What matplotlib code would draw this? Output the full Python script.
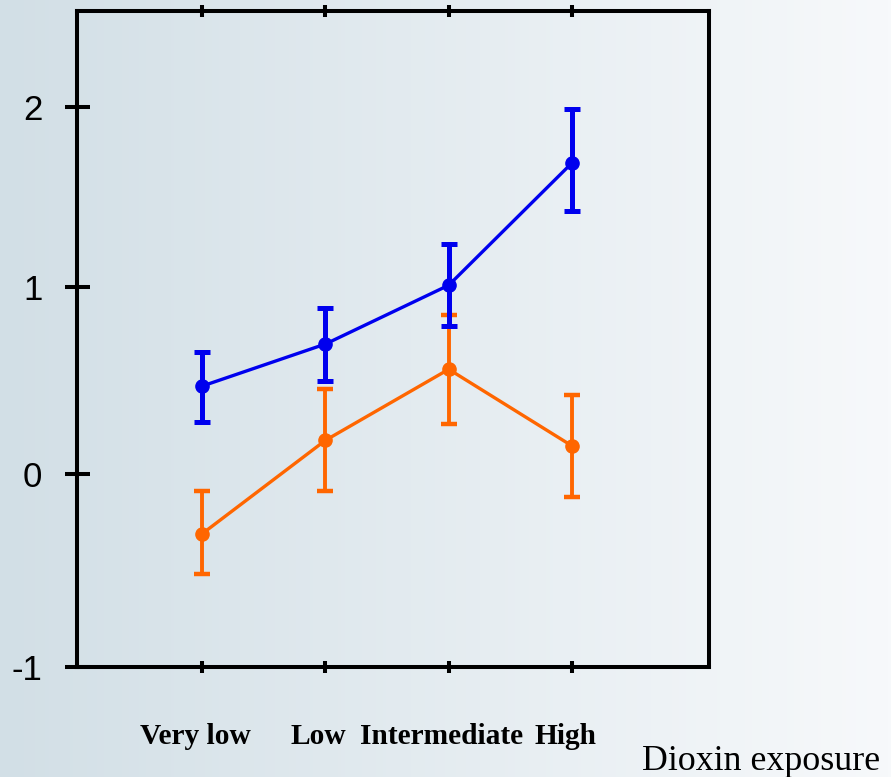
import numpy as np
import matplotlib
matplotlib.use('Agg')
import matplotlib.pyplot as plt
from matplotlib.transforms import ScaledTranslation

categories = ['Very low', 'Low', 'Intermediate', 'High']
blue_mean = [0.47, 0.695, 1.01, 1.69]
blue_low = [0.28, 0.50, 0.79, 1.42]
blue_high = [0.65, 0.89, 1.24, 1.99]
orange_mean = [-0.31, 0.18, 0.56, 0.15]
orange_low = [-0.52, -0.09, 0.27, -0.12]
orange_high = [-0.09, 0.455, 0.85, 0.42]
yticks = [-1, 0, 1, 2]
xlabel = 'Dioxin exposure'

# slightly uneven axis spacing as in the original drawing
_yv = [-1, 0, 1, 2, 3]
_yp = [0, 193, 380, 560, 740]
def fwd(y):
    return np.interp(y, _yv, _yp, left=-1e9, right=1e9)
def inv(p):
    return np.interp(p, _yp, _yv)

W, H = 891, 777
fig = plt.figure(figsize=(W / 100, H / 100), dpi=100)

# background gradient
bg = fig.add_axes([0, 0, 1, 1], zorder=-10)
c0 = np.array([210, 223, 230]) / 255
c1 = np.array([247, 249, 251]) / 255
t = np.linspace(0, 1, 256)[None, :, None]
grad = c0 + (c1 - c0) * t
bg.imshow(grad, aspect='auto', extent=[0, 1, 0, 1])
bg.axis('off')

L, R, T, B = 77, 709, 11, 667
ax = fig.add_axes([L / W, 1 - B / H, (R - L) / W, (B - T) / H])
ax.set_facecolor('none')
ax.set_yscale('function', functions=(fwd, inv))

x = np.arange(1, len(categories) + 1)
bm = np.array(blue_mean); om = np.array(orange_mean)
berr = [bm - np.array(blue_low), np.array(blue_high) - bm]
oerr = [om - np.array(orange_low), np.array(orange_high) - om]

ax.errorbar(x, om, yerr=oerr, color='#ff6600', lw=2.4, marker='o', ms=9.5,
            elinewidth=2.8, capsize=6, capthick=3.2, zorder=3)
ax.errorbar(x, bm, yerr=berr, color='#0000ee', lw=2.4, marker='o', ms=9.5,
            elinewidth=3.6, capsize=5.8, capthick=3.6, zorder=4)

ax.set_xlim(-0.014, 5.11)
ax.set_ylim(-1, inv(B - T))
ax.set_yticks(yticks)
ax.set_yticklabels([str(v) for v in yticks])
ax.set_xticks(x)
ax.set_xticklabels(categories)

for s in ax.spines.values():
    s.set_linewidth(2.9)
    s.set_color('black')

ax.tick_params(axis='y', direction='inout', length=18, width=2.9, pad=16,
               labelsize=25, left=True, right=False)
ax.tick_params(axis='x', direction='inout', length=9, width=2.9, pad=36,
               top=True, bottom=True)
for lab in ax.get_yticklabels():
    lab.set_fontfamily('Liberation Sans')
off = ScaledTranslation(-7 / 100, 0, fig.dpi_scale_trans)
for lab in ax.get_xticklabels():
    lab.set_fontfamily('Liberation Serif')
    lab.set_fontweight('bold')
    lab.set_fontsize(21.2)
    lab.set_transform(lab.get_transform() + off)

fig.text(761 / W, 1 - 762 / H, xlabel, ha='center', va='center',
         fontfamily='Liberation Serif', fontsize=25.8)

fig.savefig('out.png', dpi=100)
